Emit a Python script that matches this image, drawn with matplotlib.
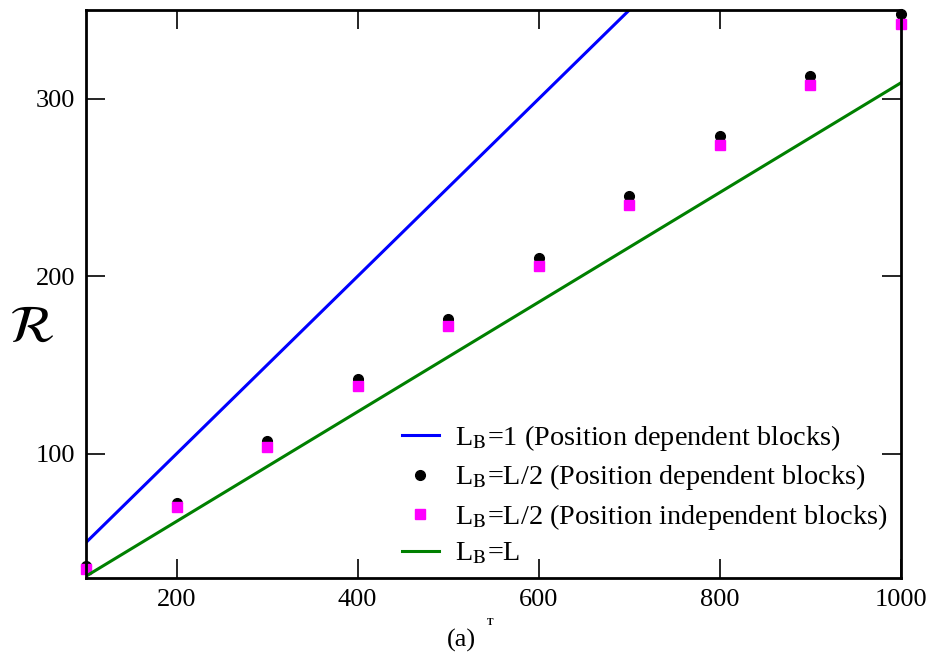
import matplotlib
matplotlib.use('Agg')
import matplotlib.pyplot as plt

# === Data ===
L_points = [100, 200, 300, 400, 500, 600, 700, 800, 900, 1000]
R_dep_half = [37, 72, 107, 142, 176, 210, 245, 279, 313, 348]
R_indep_half = [35, 70, 104, 138, 172, 206, 240, 274, 308, 342]

L_line = [100, 1000]
R_lb1 = [50, 500]
R_lbL = [31, 309]

plt.rcParams['font.family'] = ['Liberation Serif', 'DejaVu Serif']
plt.rcParams['mathtext.fontset'] = 'stix'

fig = plt.figure(figsize=(9.32, 6.55), dpi=100)
ax = fig.add_axes([0.0923, 0.1176, 0.8744, 0.8671])

ax.plot(L_line, R_lb1, color='#0000ff', linewidth=2.2,
        label=r'L$_\mathrm{B}$=1 (Position dependent blocks)')
ax.plot(L_points, R_dep_half, 'o', color='black', markersize=7, clip_on=False,
        label=r'L$_\mathrm{B}$=L/2 (Position dependent blocks)')
ax.plot(L_points, R_indep_half, 's', color='#ff00ff', markersize=6.5, clip_on=False,
        label=r'L$_\mathrm{B}$=L/2 (Position independent blocks)')
ax.plot(L_line, R_lbL, color='#008000', linewidth=2.2,
        label=r'L$_\mathrm{B}$=L')

ax.set_xlim(100, 1000)
ax.set_ylim(30, 350)
ax.set_xticks([200, 400, 600, 800, 1000])
ax.set_yticks([100, 200, 300])
ax.tick_params(direction='in', length=14, width=1.2, labelsize=19,
               top=True, right=True, pad=8)
for s in ax.spines.values():
    s.set_linewidth(2)

# y label drawn upright, left of the axis
fig.text(0.034, 0.498, r'$\mathcal{R}$', fontsize=38, ha='center', va='center')

leg = ax.legend(loc='lower right', frameon=False, fontsize=20.3,
                handlelength=1.3, handletextpad=0.6, labelspacing=0.33,
                bbox_to_anchor=(1.015, -0.025), numpoints=1)

fig.text(0.495, 0.004, '(a)', fontsize=19, ha='center', va='bottom')
fig.text(0.526, 0.046, 'T', fontsize=7, ha='center', fontweight='bold')

fig.savefig('out.png', dpi=100)
